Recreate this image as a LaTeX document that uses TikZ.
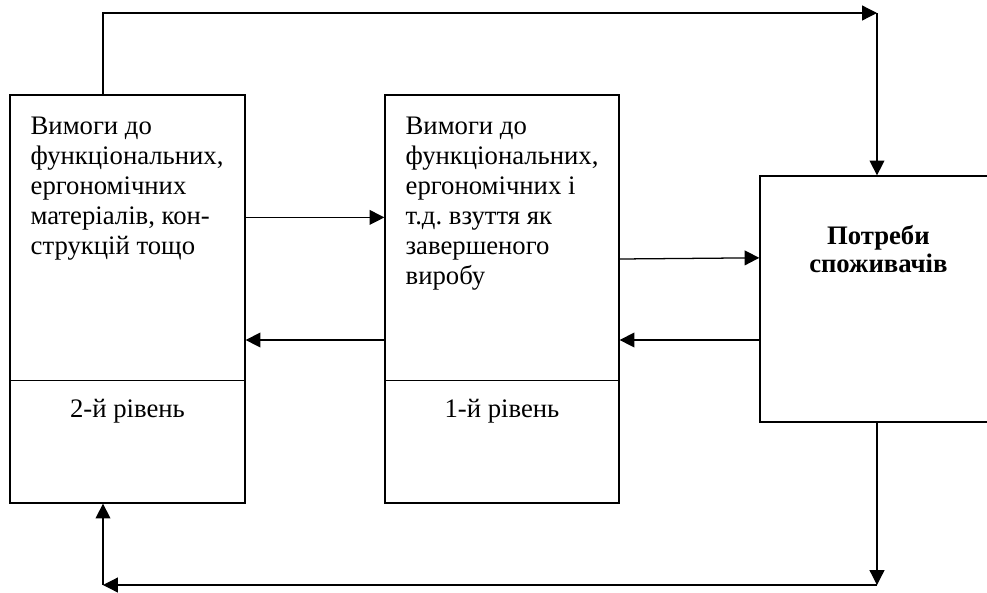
\documentclass[tikz,border=0pt]{standalone}
\usepackage{fontspec}
\setmainfont{Liberation Serif}
\usetikzlibrary{arrows.meta,calc,positioning}
\frenchspacing

\begin{document}
\begin{tikzpicture}[
  box/.style={draw, line width=0.9pt, inner sep=0pt},
  txt/.style={inner sep=0pt, align=left, font=\fontsize{19}{21.3}\selectfont},
  ln/.style={line width=0.9pt},
  arr/.style={line width=0.9pt, -{Triangle[length=0.37cm, width=0.37cm]}}
]
  \useasboundingbox (0,0) rectangle (24.675,-14.8);

  \node [box, minimum width=5.875cm, minimum height=10.2cm] at (3.1875,-7.475) (A) {};
  \node [box, minimum width=5.85cm, minimum height=10.2cm] at (12.55,-7.475) (B) {};
  \node [box, minimum width=5.7cm, minimum height=6.15cm] at (21.85,-7.475) (C) {};

  \node [txt, below right=0.56cm and 0.525cm of A.north west] (tA) {Вимоги до\\функціональних,\\ергономічних\\матеріалів, кон-\\струкцій тощо};
  \node [txt, below right=0.56cm and 0.525cm of B.north west] (tB) {Вимоги до\\функціональних,\\ергономічних і\\т.д. взуття як\\завершеного\\виробу};
  \node [txt, align=center, font=\fontsize{19}{19.85}\selectfont\bfseries] at ($(C.center)+(0.11,1.25)$) (tC) {Потреби\\споживачів};

  \draw [ln] ($(A.south west)!0.3!(A.north west)$) -- ($(A.south east)!0.3!(A.north east)$);
  \draw [ln] ($(B.south west)!0.3!(B.north west)$) -- ($(B.south east)!0.3!(B.north east)$);

  \node [txt] at ($(A.south)+(0,2.3)$) (lA) {2-й рівень};
  \node [txt] at ($(B.south)+(0,2.3)$) (lB) {1-й рівень};

  \coordinate (tl) at (2.575,-0.325);
  \coordinate (tr) at (21.925,-0.325);
  \coordinate (bl) at (2.575,-14.625);
  \coordinate (br) at (21.925,-14.625);

  \draw [arr] (A.north -| tl) -- (tl) -- (tr);
  \draw [arr] (tr) -- (tr |- C.north);
  \draw [arr] (C.south -| br) -- (br);
  \draw [arr] (br) -- (bl);
  \draw [arr] (bl) -- (bl |- A.south);

  \draw [arr] ([yshift=2.04cm]A.east) -- ([yshift=2.04cm]B.west);
  \draw [arr] ([yshift=1cm]B.east) -- ([yshift=1.03cm]C.west);
  \draw [arr] ([yshift=-1.025cm]C.west) -- ([yshift=-1.025cm]B.east);
  \draw [arr] ([yshift=-1.025cm]B.west) -- ([yshift=-1.025cm]A.east);

\end{tikzpicture}
\end{document}
